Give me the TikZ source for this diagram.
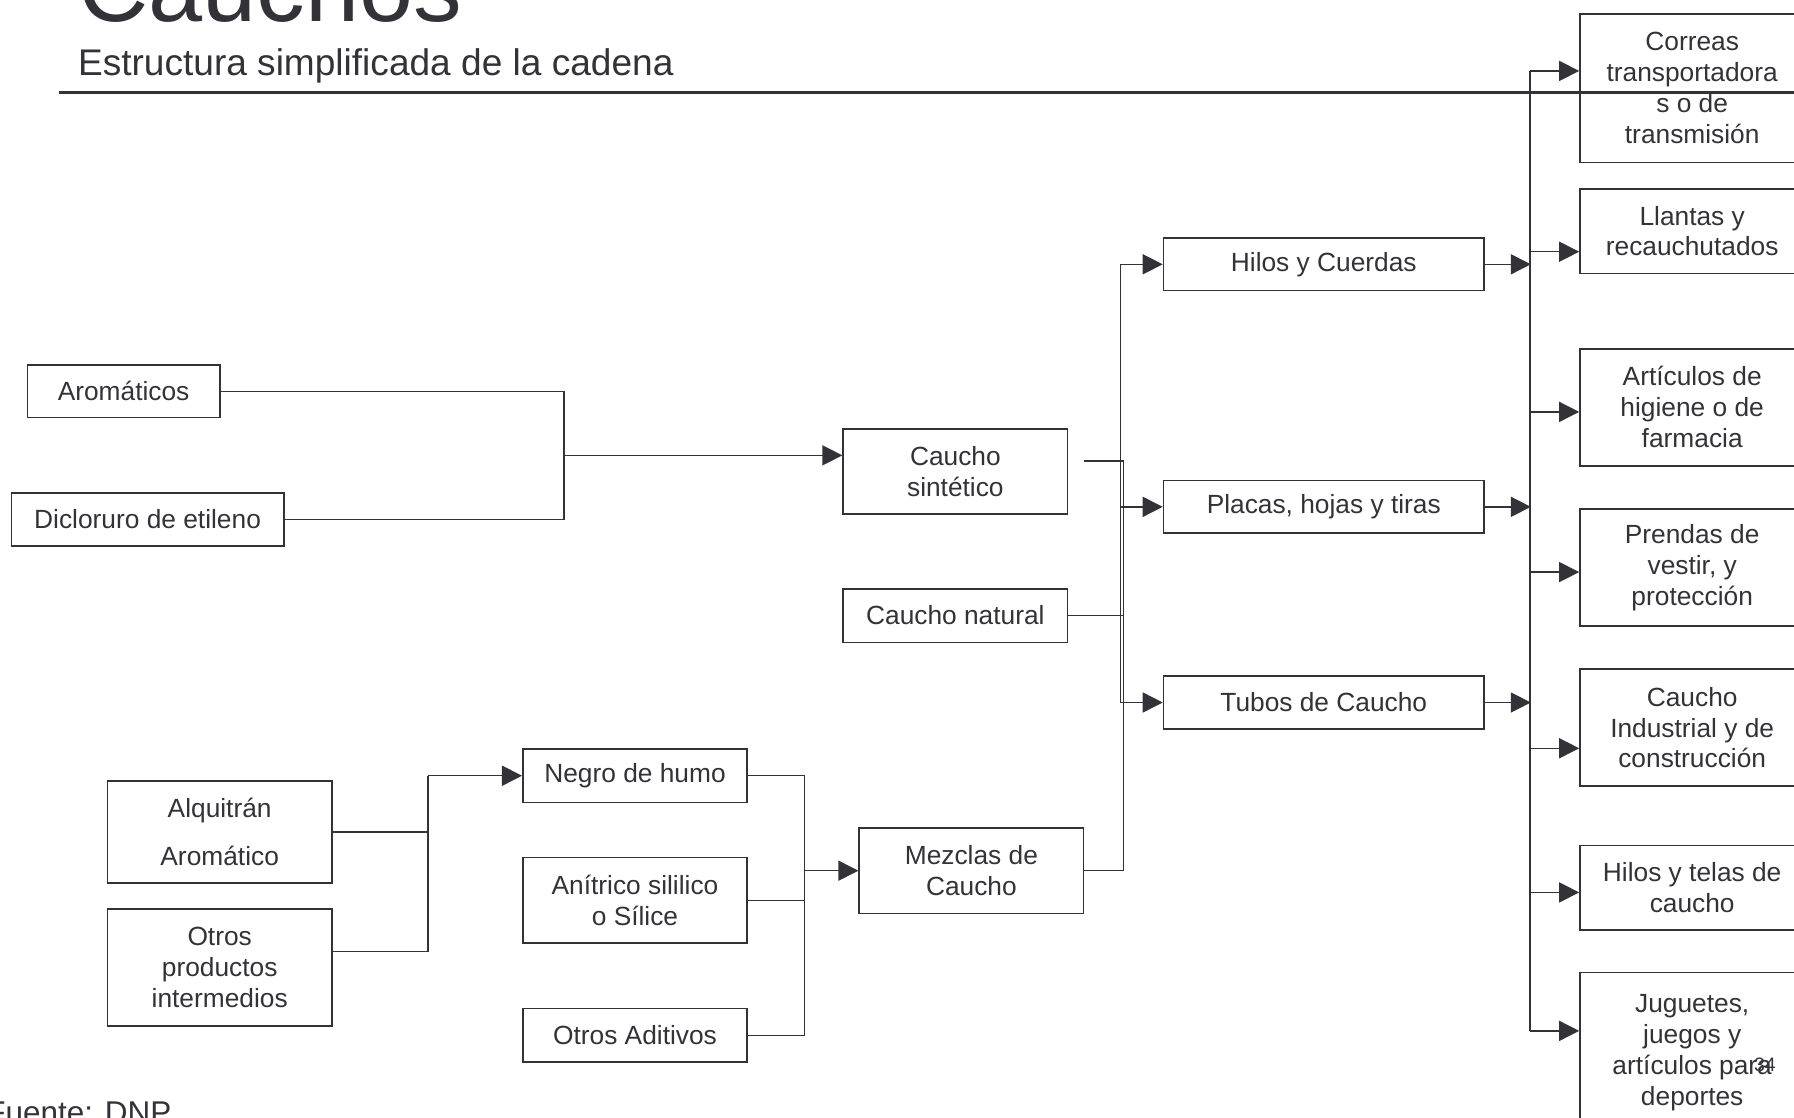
\documentclass[tikz,border=0pt]{standalone}
\usepackage{fontspec}
\setmainfont{Liberation Sans}
\usepackage{xcolor}
\usepackage{tikz}
\usetikzlibrary{arrows.meta}
\definecolor{ink}{RGB}{50,50,56}
\newcommand{\boxfont}{\fontsize{23}{27}\selectfont}
\tikzstyle{block}=[draw=ink, line width=1.5pt, rectangle, inner sep=0pt, align=center, text=ink, font=\boxfont, minimum width=196pt]
\tikzstyle{feed}=[draw=ink, line width=1.3pt]
\tikzstyle{flow}=[feed, -{Triangle[length=17.5pt, width=17.5pt]}]
\tikzstyle{caption}=[anchor=base west, inner sep=0pt, text=ink]

\begin{document}
\begin{tikzpicture}[x=1pt, y=-1pt]
        \useasboundingbox (0,0) rectangle (1568,977);
        \node[caption, font=\fontsize{85}{90}\selectfont] (title) at (68,19) {Cauchos};
        \node[caption, font=\fontsize{32.4}{38}\selectfont] (subtitle) at (68,66) {Estructura simplificada de la cadena};
        \draw[ink, line width=2.4pt] (52,81) -- (1568,81);
        \node[caption, font=\fontsize{27.5}{32}\selectfont] (source) at (-12,982) {Fuente: DNP};
        \node[block, minimum width=168pt, minimum height=46pt] (arom) at (108,342) {Aromáticos};
        \node[block, minimum width=238pt, minimum height=46pt] (dicl) at (129,454) {Dicloruro de etileno};
        \node[block, minimum height=74pt] (csint) at (835,412) {Caucho\\sintético};
        \node[block, minimum height=47pt] (cnat) at (835,538) {Caucho natural};
        \node[block, minimum height=75pt] (mezcla) at (849,761) {Mezclas de\\Caucho};
        \node[block, minimum height=89pt] (alq) at (192,727) {Alquitrán\\[15pt]Aromático};
        \node[block, minimum height=102pt] (otros) at (192,845.5) {Otros\\productos\\intermedios};
        \node[block, minimum height=47pt] (negro) at (555,678) {Negro de humo};
        \node[block, minimum height=75pt] (anit) at (555,787) {Anítrico sililico\\o Sílice};
        \node[block, minimum height=47pt] (aditivos) at (555,905) {Otros Aditivos};
        \foreach \n/\y/\t in {hilos/231/{Hilos y Cuerdas}, placas/443/{Placas, hojas y tiras}, tubos/614/{Tubos de Caucho}}
             \node[block, minimum width=280pt, minimum height=46pt] (\n) at (1157,\y) {\t};
        \foreach \n/\y/\h/\d/\t in {correas/77/130/15/{Correas\\transportadora\\s o de\\transmisión},
                                   llantas/202/74/-18/{Llantas y\\recauchutados},
                                   articulos/356/102/-4/{Artículos de\\higiene o de\\farmacia},
                                   prendas/496/102/-4/{Prendas de\\vestir, y\\protección},
                                   industrial/636/102/-18/{Caucho\\Industrial y de\\construcción},
                                   telas/776/74/-4/{Hilos y telas de\\caucho},
                                   juguetes/920/140/19/{Juguetes,\\juegos y\\artículos para\\deportes}} {
             \node[block, minimum height=\h pt] (\n) at (1479,\y) {\t};
             \draw[flow] ([xshift=-43pt, yshift=\d pt]\n.west) -- ([yshift=\d pt]\n.west);
        }
        \node[inner sep=0pt, text=ink, font=\fontsize{17}{20}\selectfont] (pagenum) at (1542.5,931) {34};
        \coordinate (j1) at (493,398); \coordinate (j2) at (374,678); \coordinate (j3) at (703,761);
        \coordinate (joinM) at (982,0); \coordinate (busM) at (979.5,0); \coordinate (busR) at (1338,0);
        \draw[feed] (arom.east) -| (j1 |- dicl.east) -- (dicl.east); \draw[flow] (j1) -- (j1 -| csint.west);
        \draw[feed] (alq.east) -- (alq.east -| j2); \draw[feed] ([yshift=14pt]otros.east) -| (j2); \draw[flow] (j2) -- (negro.west);
        \draw[feed] (negro.east) -| (j3 |- aditivos.east) -- (aditivos.east); \draw[feed] (anit.east) -- (anit.east -| j3); \draw[flow] (j3) -- (mezcla.west);
        \draw[feed] ([xshift=14pt, yshift=9pt]csint.east) -| (joinM |- mezcla.east) -- (mezcla.east);
        \draw[feed] (cnat.east) -- (cnat.east -| joinM);
        \draw[feed] (busM |- hilos.west) -- (busM |- tubos.west);
        \foreach \n in {hilos,placas,tubos} {
             \draw[flow] (busM |- \n.west) -- (\n.west); \draw[flow] (\n.east) -- (\n.east -| busR);
        }
        \draw[feed] ([xshift=-43pt, yshift=15pt]correas.west) -- ([xshift=-43pt, yshift=19pt]juguetes.west);
    \end{tikzpicture}
\end{document}
